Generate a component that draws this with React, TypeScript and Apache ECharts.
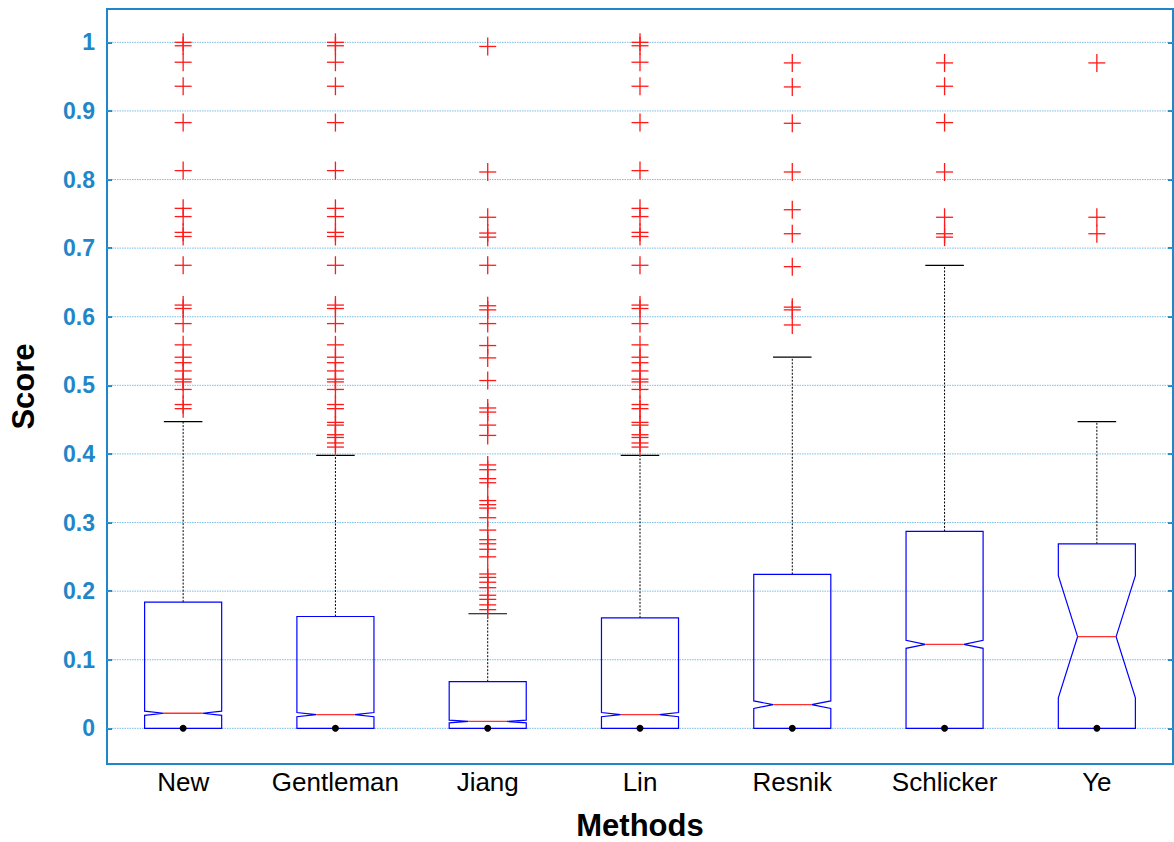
import React, { useEffect, useRef } from "react";
import * as echarts from "echarts";

const categories = ["New", "Gentleman", "Jiang", "Lin", "Resnik", "Schlicker", "Ye"];
const q1 = [0, 0, 0, 0, 0, 0, 0];
const medians = [0.022, 0.02, 0.01, 0.02, 0.0345, 0.1224, 0.1336];
const q3 = [0.184, 0.163, 0.068, 0.161, 0.2245, 0.287, 0.269];
const whiskerLow = [0, 0, 0, 0, 0, 0, 0];
const whiskerHigh = [0.447, 0.398, 0.167, 0.398, 0.541, 0.675, 0.447];
const notchHalf = [0.003, 0.003, 0.002, 0.003, 0.0055, 0.0058, 0.089];

const outNew = [1.0, 0.995, 0.971, 0.936, 0.883, 0.813, 0.758, 0.746, 0.723, 0.717, 0.675, 0.617, 0.612, 0.59, 0.559, 0.541, 0.533, 0.521, 0.509, 0.505, 0.494, 0.472, 0.466];
const outGentleman = [1.0, 0.995, 0.971, 0.936, 0.883, 0.813, 0.758, 0.746, 0.723, 0.717, 0.675, 0.617, 0.612, 0.59, 0.559, 0.541, 0.533, 0.521, 0.509, 0.505, 0.494, 0.472, 0.466, 0.446, 0.442, 0.428, 0.424, 0.416, 0.41];
const outJiang = [0.994, 0.811, 0.745, 0.722, 0.716, 0.675, 0.616, 0.61, 0.59, 0.558, 0.54, 0.507, 0.467, 0.461, 0.442, 0.427, 0.384, 0.377, 0.364, 0.358, 0.332, 0.326, 0.321, 0.307, 0.289, 0.275, 0.269, 0.261, 0.25, 0.225, 0.22, 0.213, 0.205, 0.194, 0.188, 0.18, 0.173];
const outLin = [1.0, 0.995, 0.971, 0.936, 0.883, 0.813, 0.758, 0.746, 0.723, 0.717, 0.675, 0.617, 0.612, 0.59, 0.559, 0.541, 0.533, 0.521, 0.509, 0.505, 0.494, 0.472, 0.466, 0.446, 0.442, 0.428, 0.424, 0.416, 0.41];
const outResnik = [0.97, 0.935, 0.882, 0.811, 0.756, 0.721, 0.673, 0.614, 0.61, 0.588];
const outSchlicker = [0.97, 0.936, 0.883, 0.811, 0.745, 0.721, 0.716];
const outYe = [0.97, 0.745, 0.721];
const outliers = [outNew, outGentleman, outJiang, outLin, outResnik, outSchlicker, outYe];

const yTicks = [0, 0.1, 0.2, 0.3, 0.4, 0.5, 0.6, 0.7, 0.8, 0.9, 1];
const yMin = -0.052;
const yMax = 1.0486;

const FONT = "'Liberation Sans', Arial, Helvetica, sans-serif";
const AXIS_BLUE = "#1f87c9";

export default function App() {
  const ref = useRef<HTMLDivElement>(null);
  useEffect(() => {
    if (!ref.current) return;
    const chart = echarts.init(ref.current, undefined, { renderer: "svg" });

    const boxData = categories.map((_, i) => [i, q1[i], medians[i], q3[i], whiskerLow[i], whiskerHigh[i], notchHalf[i]]);
    const outData: number[][] = [];
    outliers.forEach((arr, i) => arr.forEach((v) => outData.push([i, v])));
    const gridData = yTicks.map((v) => [0, v]);

    const option: any = {
      animation: false,
      backgroundColor: "#ffffff",
      grid: {
        left: 107,
        right: 1,
        top: 9,
        bottom: 78,
        outerBoundsMode: "none",
        containLabel: false,
        show: true,
        borderColor: AXIS_BLUE,
        borderWidth: 2,
        backgroundColor: "transparent",
      },
      xAxis: {
        type: "category",
        data: categories,
        boundaryGap: true,
        axisLine: { show: false },
        axisTick: { show: false },
        splitLine: { show: false },
        axisLabel: { color: "#000", fontFamily: FONT, fontSize: 26, margin: 5, interval: 0 },
        name: "Methods",
        nameLocation: "middle",
        nameGap: 46,
        nameTextStyle: { color: "#000", fontFamily: FONT, fontSize: 31, fontWeight: "bold", lineHeight: 30 },
      },
      yAxis: [
        {
          type: "value",
          min: yMin,
          max: yMax,
          axisLine: { show: false },
          splitLine: { show: false },
          axisTick: {
            show: true,
            inside: true,
            length: 5,
            customValues: yTicks,
            lineStyle: { color: AXIS_BLUE, width: 2 },
          },
          axisLabel: {
            customValues: yTicks,
            color: AXIS_BLUE,
            fontFamily: FONT,
            fontSize: 23,
            fontWeight: "bold",
            margin: 12,
            formatter: (v: number) => String(Math.round(v * 10) / 10),
          },
          name: "Score",
          nameLocation: "middle",
          nameGap: 68,
          nameRotate: 90,
          nameTextStyle: { color: "#000", fontFamily: FONT, fontSize: 31, fontWeight: "bold" },
        },
        {
          type: "value",
          position: "right",
          min: yMin,
          max: yMax,
          axisLine: { show: false },
          splitLine: { show: false },
          axisLabel: { show: false },
          axisTick: {
            show: true,
            inside: true,
            length: 5,
            customValues: yTicks,
            lineStyle: { color: AXIS_BLUE, width: 2 },
          },
        },
      ],
      series: [
        {
          type: "custom",
          name: "grid",
          silent: true,
          z: 1,
          encode: { x: 0, y: 1 },
          data: gridData,
          renderItem: (params: any, api: any) => {
            const cs = params.coordSys;
            const y = api.coord([0, api.value(1)])[1];
            return {
              type: "line",
              shape: { x1: cs.x, y1: y, x2: cs.x + cs.width, y2: y },
              style: { stroke: "#5aaee0", lineWidth: 1, lineDash: [1.5, 1], opacity: 0.8 },
            };
          },
        },
        {
          type: "custom",
          name: "boxes",
          z: 3,
          encode: { x: 0, y: [1, 2, 3, 4, 5] },
          data: boxData,
          renderItem: (params: any, api: any) => {
            const idx = api.value(0);
            const vq1 = api.value(1);
            const vmed = api.value(2);
            const vq3 = api.value(3);
            const vwl = api.value(4);
            const vwh = api.value(5);
            const nh = api.value(6);
            const bw = api.size([1, 0])[0];
            const half = bw * 0.253;
            const nIn = half * 0.5;
            const cx = api.coord([idx, vmed])[0];
            const Y = (v: number) => api.coord([idx, v])[1];
            const L = cx - half;
            const R = cx + half;
            const lo = Math.max(vq1, vmed - nh);
            const hi = Math.min(vq3, vmed + nh);
            const pts = [
              [L, Y(vq1)], [L, Y(lo)], [L + nIn, Y(vmed)], [L, Y(hi)], [L, Y(vq3)],
              [R, Y(vq3)], [R, Y(hi)], [R - nIn, Y(vmed)], [R, Y(lo)], [R, Y(vq1)],
            ];
            const capHalf = half / 2;
            return {
              type: "group",
              children: [
                {
                  type: "line",
                  shape: { x1: cx, y1: Y(vq3), x2: cx, y2: Y(vwh) },
                  style: { stroke: "#000", lineWidth: 1, lineDash: [2, 1.5] },
                },
                {
                  type: "line",
                  shape: { x1: cx - capHalf, y1: Y(vwh), x2: cx + capHalf, y2: Y(vwh) },
                  style: { stroke: "#000", lineWidth: 1.2 },
                },
                {
                  type: "polygon",
                  shape: { points: pts },
                  style: { fill: "none", stroke: "#0000ff", lineWidth: 1.2 },
                },
                {
                  type: "line",
                  shape: { x1: L + nIn, y1: Y(vmed), x2: R - nIn, y2: Y(vmed) },
                  style: { stroke: "#ff3030", lineWidth: 1.3 },
                },
                {
                  type: "circle",
                  shape: { cx: cx, cy: Y(vwl), r: 3.5 },
                  style: { fill: "#000" },
                },
              ],
            };
          },
        },
        {
          type: "custom",
          name: "outliers",
          z: 4,
          encode: { x: 0, y: 1 },
          data: outData,
          renderItem: (params: any, api: any) => {
            const p = api.coord([api.value(0), api.value(1)]);
            return {
              type: "group",
              children: [
                {
                  type: "line",
                  shape: { x1: p[0] - 8.5, y1: p[1], x2: p[0] + 8.5, y2: p[1] },
                  style: { stroke: "#ff1a1a", lineWidth: 1.3 },
                },
                {
                  type: "line",
                  shape: { x1: p[0], y1: p[1] - 9, x2: p[0], y2: p[1] + 9 },
                  style: { stroke: "#ff1a1a", lineWidth: 1.3 },
                },
              ],
            };
          },
        },
      ],
    };
    chart.setOption(option);
    return () => chart.dispose();
  }, []);
  return (
    <div
      ref={ref}
      style={{ position: "fixed", left: 0, top: 0, width: 1174, height: 842, background: "#fff" }}
    />
  );
}
